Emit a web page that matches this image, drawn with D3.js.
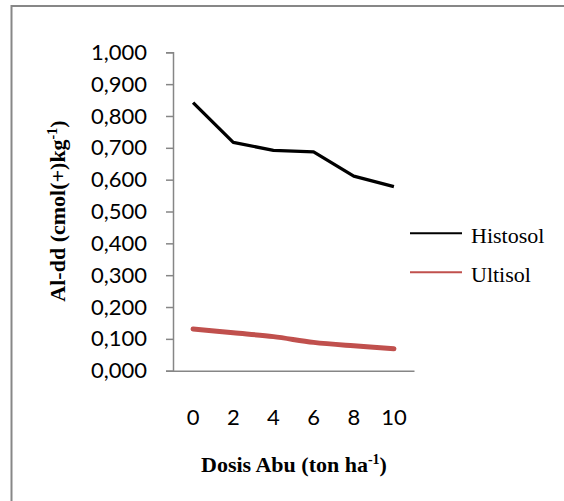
<!DOCTYPE html>
<html>
<head>
<meta charset="utf-8">
<script src="https://cdn.jsdelivr.net/npm/d3@7"></script>
<style>
	body { margin: 0; background: #fff; }
	svg { display: block; }
</style>
</head>
<body>
<script>
	// doses (ton/ha) and Al-dd values
	var doses = ['0', '2', '4', '6', '8', '10'],
		histosol = [0.842, 0.717, 0.692, 0.687, 0.611, 0.578],
		ultisol = [0.131, 0.119, 0.107, 0.089, 0.078, 0.069],
		yTicks = [0, 0.1, 0.2, 0.3, 0.4, 0.5, 0.6, 0.7, 0.8, 0.9, 1.0],
		seriesNames = ['Histosol', 'Ultisol'];

	var width = 564,
		height = 501,
		plotLeft = 173,
		plotRight = 414,
		plotTop = 52.3,
		plotBottom = 370.7,
		numFont = 'Lato, "Open Sans", sans-serif',
		serif = '"Liberation Serif", "Times New Roman", serif';

	var svg = d3.select('body').append('svg')
		.attr('width', width)
		.attr('height', height);

	// chart frame (only top and left edges are inside the picture)
	svg.append('rect')
		.attr('x', 11.5)
		.attr('y', 6)
		.attr('width', 700)
		.attr('height', 600)
		.attr('fill', 'none')
		.attr('stroke', '#878787')
		.attr('stroke-width', 2);

	var x = d3.scaleBand()
		.domain(doses)
		.range([plotLeft, plotRight]);

	var y = d3.scaleLinear()
		.domain([0, 1])
		.range([plotBottom, plotTop]);

	var fmt = function(d) { return d3.format('.3f')(d).replace('.', ','); };

	// y axis
	var yAxis = svg.append('g')
		.attr('transform', 'translate(' + plotLeft + ',0)')
		.call(d3.axisLeft(y).tickValues(yTicks).tickSize(7).tickPadding(19).tickFormat(fmt));
	yAxis.select('.domain').attr('stroke', '#868686').attr('stroke-width', 1.5);
	yAxis.selectAll('.tick line').attr('stroke', '#868686').attr('stroke-width', 1.5);
	yAxis.selectAll('text')
		.attr('fill', '#000')
		.style('font-family', numFont)
		.style('font-size', '22px');

	// x axis
	var xAxis = svg.append('g')
		.attr('transform', 'translate(0,' + plotBottom + ')')
		.call(d3.axisBottom(x).tickSize(0).tickPadding(39).tickSizeOuter(0));
	xAxis.select('.domain').attr('stroke', '#868686').attr('stroke-width', 1.5);
	xAxis.selectAll('text')
		.attr('fill', '#000')
		.style('font-family', numFont)
		.style('font-size', '22px');

	var line = d3.line()
		.x(function(d, i) { return x(doses[i]) + x.bandwidth() / 2; })
		.y(function(d) { return y(d); });

	svg.append('path')
		.datum(histosol)
		.attr('d', line)
		.attr('fill', 'none')
		.attr('stroke', '#000')
		.attr('stroke-width', 3.3)
		.attr('stroke-linejoin', 'round');

	svg.append('path')
		.datum(ultisol)
		.attr('d', line.curve(d3.curveCatmullRom))
		.attr('fill', 'none')
		.attr('stroke', '#c0504d')
		.attr('stroke-width', 5)
		.attr('stroke-linecap', 'round');

	// legend
	var colors = ['#000', '#c0504d'];
	var legend = svg.selectAll('.legend')
		.data(seriesNames)
		.enter().append('g')
		.attr('class', 'legend')
		.attr('transform', function(d, i) { return 'translate(410,' + (233.3 + i * 39) + ')'; });
	legend.append('line')
		.attr('x1', 0)
		.attr('x2', 52)
		.attr('stroke', function(d, i) { return colors[i]; })
		.attr('stroke-width', 2);
	legend.append('text')
		.attr('x', 61)
		.attr('y', 9.5)
		.style('font-family', serif)
		.style('font-size', '22px')
		.text(function(d) { return d; });

	// axis titles
	var yTitle = svg.append('text')
		.attr('transform', 'translate(65,211) rotate(-90)')
		.attr('text-anchor', 'middle')
		.style('font-family', serif)
		.style('font-size', '22px')
		.style('font-weight', 'bold');
	yTitle.append('tspan').text('Al-dd (cmol(+)kg');
	yTitle.append('tspan').attr('dy', -8).style('font-size', '14px').text('-1');
	yTitle.append('tspan').attr('dy', 8).text(')');

	var xTitle = svg.append('text')
		.attr('x', 294)
		.attr('y', 472)
		.attr('text-anchor', 'middle')
		.style('font-family', serif)
		.style('font-size', '22px')
		.style('font-weight', 'bold');
	xTitle.append('tspan').text('Dosis Abu (ton ha');
	xTitle.append('tspan').attr('dy', -8).style('font-size', '14px').text('-1');
	xTitle.append('tspan').attr('dy', 8).text(')');
</script>
</body>
</html>
